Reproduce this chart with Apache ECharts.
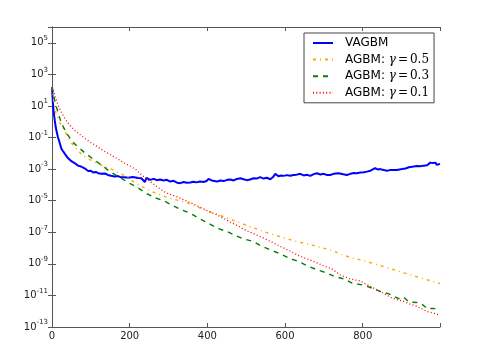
<!DOCTYPE html>
<html>
<head>
<meta charset="utf-8">
<script src="https://cdn.jsdelivr.net/npm/echarts@6/dist/echarts.min.js"></script>
<style>
html, body { margin: 0; padding: 0; background: #fff; }
#main { width: 479px; height: 356px; }
</style>
</head>
<body>
<div id="main"></div>
<script>
var names = ['VAGBM', 'AGBM: γ = 0.5', 'AGBM: γ = 0.3', 'AGBM: γ = 0.1'];

var vagbmIter = [0,2,4,7,10,15,20,24,28,35,41,50,59,67,75,84,93,100,106,113,119,127,136,144,152,161,170,178,187,196,201,208,213,222,230,235,239,243,247,253,262,270,278,287,296,304,313,322,330,339,347,356,364,372,381,390,398,403,407,411,415,425,433,442,451,459,468,476,485,493,502,510,519,527,536,545,553,562,570,575,583,590,596,605,613,622,630,639,648,656,665,674,682,691,700,708,716,725,738,750,759,768,777,785,794,803,811,820,826,832,838,845,854,863,871,880,888,895,901,910,919,923,931,940,948,957,966,970,974,980,987,991,995,999];
var vagbmExp = [2.2,1.3,0.7,0.1,-0.4,-0.95,-1.35,-1.7,-1.85,-2.1,-2.3,-2.5,-2.63,-2.78,-2.84,-2.95,-3.12,-3.1,-3.22,-3.18,-3.26,-3.3,-3.28,-3.37,-3.42,-3.47,-3.44,-3.52,-3.51,-3.55,-3.58,-3.5,-3.47,-3.56,-3.58,-3.47,-3.82,-3.55,-3.47,-3.68,-3.62,-3.7,-3.66,-3.72,-3.68,-3.79,-3.74,-3.86,-3.89,-3.82,-3.87,-3.85,-3.8,-3.84,-3.79,-3.82,-3.75,-3.62,-3.5,-3.72,-3.8,-3.79,-3.72,-3.76,-3.68,-3.66,-3.72,-3.62,-3.58,-3.64,-3.7,-3.66,-3.58,-3.6,-3.51,-3.6,-3.55,-3.64,-3.48,-3.3,-3.45,-3.4,-3.43,-3.38,-3.42,-3.37,-3.35,-3.3,-3.4,-3.36,-3.43,-3.32,-3.26,-3.34,-3.3,-3.37,-3.37,-3.3,-3.26,-3.33,-3.37,-3.3,-3.25,-3.26,-3.22,-3.2,-3.16,-3.1,-3.02,-2.94,-3.02,-3.0,-3.06,-3.11,-3.05,-3.06,-3.05,-3.02,-3.0,-2.96,-2.88,-2.8,-2.84,-2.8,-2.82,-2.78,-2.76,-2.7,-2.59,-2.62,-2.59,-2.73,-2.66,-2.67];

var g5Iter = [0,5,10,20,33,44,54,67,84,97,110,131,147,162,177,191,203,214,235,260,291,320,347,375,403,430,459,500,545,590,631,675,716,745,768,795,824,870,910,950,999];
var g5Exp = [2.2,1.2,0.56,-0.05,-0.6,-1.1,-1.47,-1.85,-2.2,-2.4,-2.55,-2.8,-2.95,-3.1,-3.3,-3.47,-3.68,-3.87,-4.15,-4.45,-4.74,-4.95,-5.12,-5.4,-5.69,-5.9,-6.17,-6.55,-6.96,-7.3,-7.59,-7.85,-8.11,-8.4,-8.6,-8.75,-8.95,-9.3,-9.6,-9.9,-10.25];

var g3Iter = [0,3,8,15,24,33,41,54,67,84,106,127,149,174,196,217,240,261,287,308,330,356,377,399,425,450,470,493,519,541,562,588,610,635,657,683,704,727,751,773,799,820,845,867,893,905,919,940,955,966,980,999];
var g3Exp = [2.2,1.9,1.2,0.64,-0.1,-0.5,-0.85,-1.3,-1.6,-1.96,-2.37,-2.73,-3.16,-3.51,-3.85,-4.12,-4.49,-4.78,-4.99,-5.27,-5.54,-5.79,-6.1,-6.38,-6.74,-6.95,-7.18,-7.42,-7.59,-7.9,-8.11,-8.37,-8.64,-8.85,-9.13,-9.38,-9.55,-9.8,-9.95,-10.22,-10.33,-10.5,-10.75,-10.9,-11.2,-11.1,-11.42,-11.45,-11.6,-11.85,-11.82,-11.87];

var g1Iter = [0,8,15,24,33,45,59,71,84,97,110,123,136,149,162,175,187,201,217,227,240,253,270,287,304,321,338,356,374,392,408,425,442,459,480,501,523,545,566,588,610,631,652,674,697,721,742,768,794,803,820,845,860,875,905,922,940,966,980,999];
var g1Exp = [2.2,1.6,1.1,0.6,0.2,-0.2,-0.55,-0.8,-1.04,-1.27,-1.47,-1.68,-1.89,-2.07,-2.25,-2.45,-2.63,-2.8,-3.05,-3.3,-3.55,-3.8,-4.1,-4.42,-4.6,-4.74,-4.93,-5.12,-5.33,-5.54,-5.72,-5.9,-6.12,-6.35,-6.62,-6.9,-7.13,-7.37,-7.62,-7.9,-8.15,-8.43,-8.64,-8.85,-9.1,-9.33,-9.7,-9.97,-10.08,-10.22,-10.43,-10.75,-10.95,-11.17,-11.38,-11.55,-11.7,-12.02,-12.1,-12.25];

var xTicks = [0, 200, 400, 600, 800];

function pairs(xs, es) {
    return xs.map(function (x, i) { return [x, Math.pow(10, es[i])]; });
}

function yLabel(v) {
    var e = Math.round(Math.log10(v));
    if (e > 5) return '';
    return '{b|10}{s|' + e + '}';
}

var tickStyle = { inside: true, length: 4, lineStyle: { color: '#555', width: 1 } };
var lineAxis = { show: true, lineStyle: { color: '#555', width: 1 } };

var option = {
    animation: false,
    backgroundColor: '#fff',
    grid: { left: 52, right: 39, top: 27, bottom: 29, containLabel: false },
    legend: {
        orient: 'vertical',
        left: 304,
        top: 33,
        padding: [4, 5, 4, 8],
        itemWidth: 20,
        itemHeight: 14,
        itemGap: 4.6,
        borderColor: '#444',
        borderWidth: 1,
        borderRadius: 0,
        backgroundColor: '#fff',
        itemStyle: { opacity: 0 },
        data: names,
        formatter: function (name) {
            if (name.indexOf('AGBM:') === 0) {
                var v = name.split('= ')[1];
                return 'AGBM: {g|γ}{m|=}{m|' + v + '}';
            }
            return name;
        },
        textStyle: {
            fontFamily: 'DejaVu Sans',
            fontSize: 12,
            color: '#000',
            padding: [0, 0, 0, 7],
            rich: {
                g: { fontFamily: 'DejaVu Serif', fontStyle: 'italic', fontSize: 12, color: '#000', padding: [0, 1, 0, 0] },
                m: { fontFamily: 'DejaVu Serif', fontSize: 12, color: '#000', padding: [0, 1, 0, 1] }
            }
        }
    },
    xAxis: [
        {
            type: 'value', min: 0, max: 999, interval: 200,
            axisLine: lineAxis, axisTick: tickStyle, splitLine: { show: false },
            axisLabel: {
                margin: 4, fontFamily: 'DejaVu Sans', fontSize: 10, color: '#222',
                formatter: function (v) { return xTicks.indexOf(v) >= 0 ? String(v) : ''; }
            }
        },
        {
            type: 'value', position: 'top', min: 0, max: 999, interval: 200,
            axisLine: lineAxis, axisTick: tickStyle, splitLine: { show: false },
            axisLabel: { show: false }
        }
    ],
    yAxis: [
        {
            type: 'log', logBase: 10, min: 1e-13, max: 1e6, interval: 2,
            axisLine: lineAxis, axisTick: tickStyle, splitLine: { show: false },
            minorTick: { show: false },
            axisLabel: {
                margin: 4, color: '#222', formatter: yLabel,
                rich: {
                    b: { fontFamily: 'DejaVu Sans', fontSize: 10, lineHeight: 16, color: '#222' },
                    s: { fontFamily: 'DejaVu Sans', fontSize: 7, lineHeight: 9, verticalAlign: 'top', color: '#222' }
                }
            }
        },
        {
            type: 'log', logBase: 10, min: 1e-13, max: 1e6, interval: 2, position: 'right',
            axisLine: lineAxis, axisTick: tickStyle, splitLine: { show: false },
            axisLabel: { show: false }
        }
    ],
    series: [
        {
            name: names[0], type: 'line', showSymbol: false, symbol: 'none',
            data: pairs(vagbmIter, vagbmExp),
            itemStyle: { color: '#0000ff' },
            lineStyle: { color: '#0000ff', width: 2, type: 'solid' }
        },
        {
            name: names[1], type: 'line', showSymbol: false, symbol: 'none',
            data: pairs(g5Iter, g5Exp),
            itemStyle: { color: '#ffa500' },
            lineStyle: { color: '#ffa500', width: 1.4, type: [3, 4, 1, 4] }
        },
        {
            name: names[2], type: 'line', showSymbol: false, symbol: 'none',
            data: pairs(g3Iter, g3Exp),
            itemStyle: { color: '#008000' },
            lineStyle: { color: '#008000', width: 1.4, type: [5, 5] }
        },
        {
            name: names[3], type: 'line', showSymbol: false, symbol: 'none',
            data: pairs(g1Iter, g1Exp),
            itemStyle: { color: '#ff0000' },
            lineStyle: { color: '#ff0000', width: 1.3, type: [1, 2.3] }
        }
    ]
};

var chart = echarts.init(document.getElementById('main'));
chart.setOption(option);
</script>
</body>
</html>
